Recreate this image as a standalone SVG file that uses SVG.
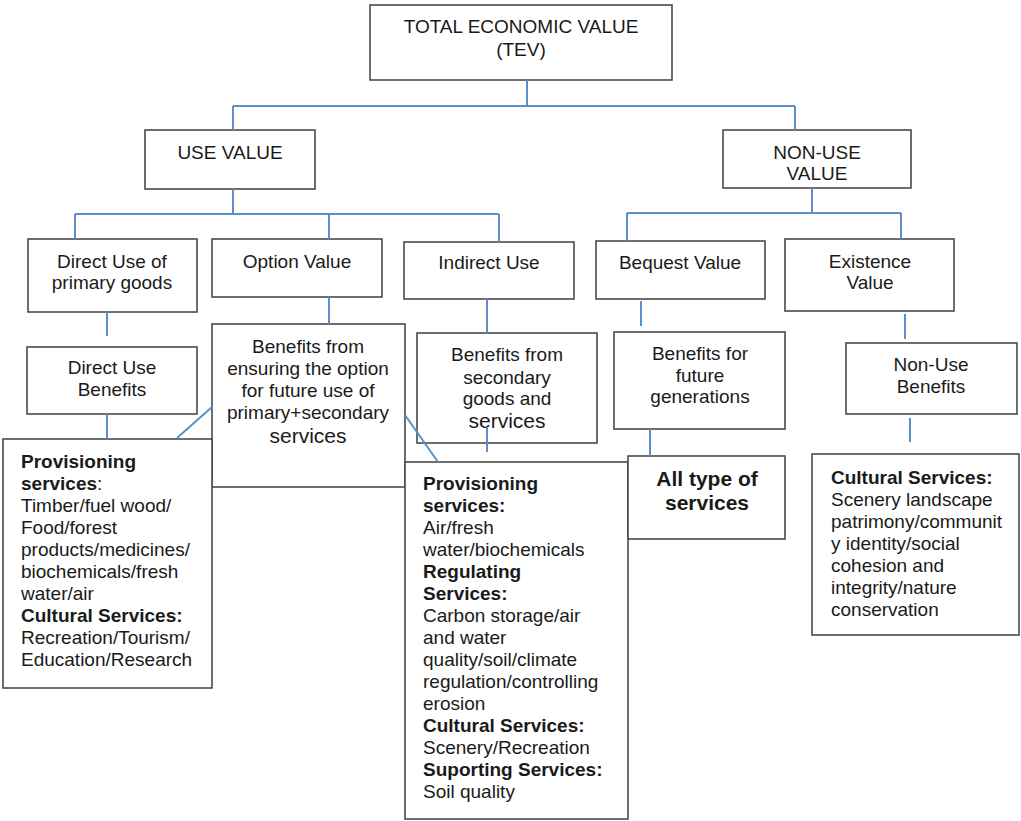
<svg xmlns="http://www.w3.org/2000/svg" width="1021" height="821" viewBox="0 0 1021 821">
<style>
rect{fill:#fff;stroke:#4a4a4a;stroke-width:1.6}
text{font-family:"Liberation Sans",Arial,sans-serif;font-size:19px;fill:#1a1a1a}
.c{text-anchor:middle}
.b{font-weight:bold}
.big{font-size:21px}
.ab{font-size:21px;font-weight:bold}
#connectors path{fill:none;stroke:#5b8fc9;stroke-width:2}
</style>
<rect x="0" y="0" width="1021" height="821" style="fill:#fff;stroke:none"/>
<g id="tev"><rect x="370" y="5" width="302" height="75"/><text class="c" x="521" y="33">TOTAL ECONOMIC VALUE</text><text class="c" x="521" y="56">(TEV)</text></g>
<g id="use-value"><rect x="145" y="130" width="170" height="59"/><text class="c" x="230" y="159">USE VALUE</text></g>
<g id="non-use-value"><rect x="723" y="130" width="188" height="58"/><text class="c" x="817" y="159">NON-USE</text><text class="c" x="817" y="180">VALUE</text></g>
<g id="direct-use"><rect x="28" y="239" width="169" height="73"/><text class="c" x="112" y="268">Direct Use of</text><text class="c" x="112" y="289">primary goods</text></g>
<g id="option-value"><rect x="212" y="239" width="170" height="58"/><text class="c" x="297" y="268">Option Value</text></g>
<g id="indirect-use"><rect x="404" y="242" width="170" height="57"/><text class="c" x="489" y="269">Indirect Use</text></g>
<g id="bequest-value"><rect x="596" y="241" width="169" height="58"/><text class="c" x="680" y="269">Bequest Value</text></g>
<g id="existence-value"><rect x="785" y="239" width="169" height="72"/><text class="c" x="870" y="268">Existence</text><text class="c" x="870" y="289">Value</text></g>
<g id="direct-use-benefits"><rect x="27" y="347" width="170" height="67"/><text class="c" x="112" y="374">Direct Use</text><text class="c" x="112" y="396">Benefits</text></g>
<g id="option-benefits"><rect x="212" y="324" width="193" height="163"/><text class="c" x="308" y="353">Benefits from</text><text class="c" x="308" y="375">ensuring the option</text><text class="c" x="308" y="397">for future use of</text><text class="c" x="308" y="419">primary+secondary</text><text class="c big" x="308" y="443">services</text></g>
<g id="secondary-benefits"><rect x="417" y="333" width="180" height="110"/><text class="c" x="507" y="361">Benefits from</text><text class="c" x="507" y="384">secondary</text><text class="c" x="507" y="405">goods and</text><text class="c big" x="507" y="428">services</text></g>
<g id="future-benefits"><rect x="614" y="332" width="171" height="97"/><text class="c" x="700" y="360">Benefits for</text><text class="c" x="700" y="382">future</text><text class="c" x="700" y="403">generations</text></g>
<g id="non-use-benefits"><rect x="846" y="343" width="171" height="71"/><text class="c" x="931" y="371">Non-Use</text><text class="c" x="931" y="393">Benefits</text></g>
<g id="direct-services"><rect x="3" y="439" width="209" height="249"/>
<text x="21" y="468" class="b">Provisioning</text>
<text x="21" y="490"><tspan class="b">services</tspan>:</text>
<text x="21" y="512">Timber/fuel wood/</text>
<text x="21" y="534">Food/forest</text>
<text x="21" y="556">products/medicines/</text>
<text x="21" y="578">biochemicals/fresh</text>
<text x="21" y="600">water/air</text>
<text x="21" y="622" class="b">Cultural Services:</text>
<text x="21" y="644">Recreation/Tourism/</text>
<text x="21" y="666">Education/Research</text>
</g>
<g id="indirect-services"><rect x="405" y="462" width="223" height="357"/>
<text x="423" y="490" class="b">Provisioning</text>
<text x="423" y="512" class="b">services:</text>
<text x="423" y="534">Air/fresh</text>
<text x="423" y="556">water/biochemicals</text>
<text x="423" y="578" class="b">Regulating</text>
<text x="423" y="600" class="b">Services:</text>
<text x="423" y="622">Carbon storage/air</text>
<text x="423" y="644">and water</text>
<text x="423" y="666">quality/soil/climate</text>
<text x="423" y="688">regulation/controlling</text>
<text x="423" y="710">erosion</text>
<text x="423" y="732" class="b">Cultural Services:</text>
<text x="423" y="754">Scenery/Recreation</text>
<text x="423" y="776" class="b">Suporting Services:</text>
<text x="423" y="798">Soil quality</text>
</g>
<g id="all-services"><rect x="628" y="456" width="157" height="83"/><text class="c ab" x="707" y="486">All type of</text><text class="c ab" x="707" y="510">services</text></g>
<g id="cultural-services"><rect x="812" y="454" width="207" height="181"/>
<text x="831" y="484" class="b">Cultural Services:</text>
<text x="831" y="506">Scenery landscape</text>
<text x="831" y="528">patrimony/communit</text>
<text x="831" y="550">y identity/social</text>
<text x="831" y="572">cohesion and</text>
<text x="831" y="594">integrity/nature</text>
<text x="831" y="616">conservation</text>
</g>
<g id="connectors">
<path d="M527,80 V106 M233,106 H795 M233,106 V130 M795,106 V130"/>
<path d="M233,189 V214 M75,214 H499 M75,214 V239 M329,214 V239 M499,214 V242"/>
<path d="M812,188 V213 M627,213 H901 M627,213 V241 M901,213 V239"/>
<path d="M107,311 V336"/>
<path d="M329,297 V324"/>
<path d="M487,299 V333"/>
<path d="M641,301 V326"/>
<path d="M905,314 V339"/>
<path d="M107,414 V439"/>
<path d="M212,407 L177,438"/>
<path d="M405,415 L438,462"/>
<path d="M487,428 V452"/>
<path d="M650,429 V456"/>
<path d="M910,418 V442"/>
</g>
</svg>
